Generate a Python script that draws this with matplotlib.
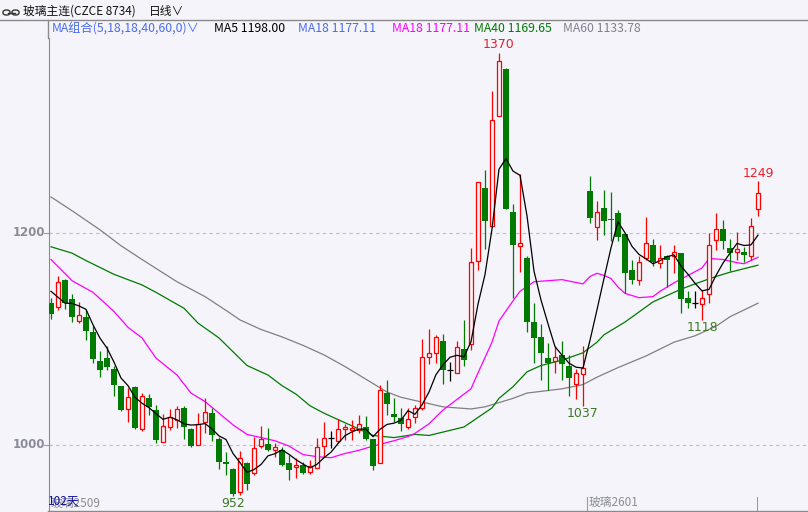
"""Glass futures daily candlestick chart with moving averages."""

import matplotlib
matplotlib.use("Agg")
import matplotlib.pyplot as plt
from matplotlib.patches import FancyBboxPatch
import numpy as np

# =============================================================================
# Data
# =============================================================================
opens = [1134, 1130, 1156, 1138, 1117, 1121, 1107, 1079, 1082, 1072,
         1056, 1034, 1055, 1015, 1044, 1033, 1003, 1017, 1024, 1035,
         1015, 1000, 1022, 1030, 1006, 984, 977, 956, 983, 974,
         999, 1001, 995, 995, 983, 979, 981, 975, 978, 999,
         1007, 1004, 1015, 1014, 1014, 1017, 1006, 983, 1049, 1029,
         1025, 1017, 1026, 1035, 1083, 1087, 1098, 1071, 1068, 1091,
         1095, 1174, 1242, 1207, 1310, 1355, 1220, 1188, 1176, 1116,
         1102, 1082, 1079, 1085, 1075, 1058, 1067, 1240, 1206, 1224,
         1213, 1219, 1199, 1165, 1156, 1176, 1189, 1172, 1178, 1178,
         1181, 1139, 1134, 1133, 1142, 1193, 1204, 1186, 1182, 1182,
         1178, 1223]
highs = [1139, 1159, 1157, 1142, 1135, 1127, 1112, 1089, 1093, 1075,
         1056, 1054, 1056, 1049, 1048, 1038, 1029, 1034, 1037, 1037,
         1016, 1030, 1044, 1035, 1008, 993, 978, 994, 984, 1008,
         1018, 1016, 1002, 998, 991, 988, 984, 986, 1007, 1022,
         1013, 1025, 1020, 1024, 1028, 1027, 1006, 1057, 1061, 1044,
         1035, 1035, 1038, 1100, 1109, 1104, 1105, 1078, 1098, 1118,
         1186, 1248, 1259, 1334, 1370, 1356, 1227, 1256, 1178, 1134,
         1114, 1096, 1093, 1098, 1085, 1072, 1093, 1254, 1230, 1241,
         1239, 1222, 1199, 1175, 1178, 1215, 1194, 1189, 1179, 1189,
         1181, 1145, 1145, 1146, 1200, 1219, 1212, 1194, 1201, 1187,
         1214, 1249]
lows = [1119, 1127, 1128, 1116, 1115, 1099, 1077, 1064, 1071, 1046,
        1032, 1022, 1015, 1013, 1028, 1002, 1003, 1014, 1016, 1006,
        998, 1000, 1011, 1004, 977, 972, 952, 953, 958, 972,
        997, 994, 989, 980, 967, 969, 973, 973, 978, 989,
        997, 1002, 1005, 1005, 1011, 1005, 976, 983, 1028, 1022,
        1013, 1015, 1021, 1033, 1076, 1077, 1058, 1060, 1068, 1075,
        1090, 1165, 1185, 1206, 1310, 1223, 1139, 1163, 1107, 1077,
        1061, 1052, 1068, 1061, 1046, 1043, 1037, 1209, 1193, 1198,
        1192, 1192, 1143, 1152, 1151, 1175, 1169, 1167, 1149, 1162,
        1125, 1129, 1129, 1118, 1134, 1184, 1185, 1164, 1175, 1173,
        1175, 1216]
closes = [1124, 1154, 1134, 1121, 1123, 1108, 1081, 1071, 1074, 1057,
          1033, 1045, 1016, 1046, 1036, 1005, 1018, 1026, 1034, 1017,
          999, 1020, 1031, 1009, 984, 982, 954, 988, 963, 997,
          1006, 995, 998, 981, 976, 981, 974, 980, 998, 1007,
          1007, 1015, 1017, 1016, 1020, 1006, 980, 1052, 1039, 1026,
          1020, 1025, 1035, 1083, 1087, 1102, 1071, 1071, 1092, 1080,
          1173, 1248, 1211, 1307, 1362, 1223, 1189, 1191, 1116, 1101,
          1087, 1077, 1083, 1076, 1063, 1068, 1073, 1214, 1220, 1211,
          1212, 1196, 1162, 1156, 1173, 1191, 1173, 1176, 1175, 1182,
          1138, 1134, 1134, 1139, 1189, 1204, 1192, 1181, 1185, 1179,
          1207, 1238]
# closes of the four sessions before the visible window (for MA5)
prev_closes = [1182, 1162, 1122, 1135]

# longer averages at candle positions
ma18_idx = [0, 3, 6, 9, 11, 13, 15, 18, 20, 22, 24, 26, 28, 30, 32, 34, 36,
            38, 40, 42, 44, 46, 49, 51, 52, 54, 56, 58, 60, 61, 63, 64, 66,
            67, 69, 73, 76, 77, 78, 79, 80, 81, 82, 84, 86, 87, 89, 91, 93,
            94, 96, 98, 99, 101]
ma18_val = [1175, 1155, 1144, 1126, 1111, 1101, 1082, 1066, 1049, 1041, 1030,
            1019, 1010, 1007, 1004, 999, 991, 989, 988, 992, 995, 999, 1004,
            1008, 1011, 1020, 1033, 1043, 1053, 1068, 1097, 1117, 1136, 1145,
            1154, 1156, 1152, 1159, 1162, 1160, 1157, 1149, 1143, 1139, 1140,
            1145, 1153, 1160, 1167, 1176, 1175, 1172, 1171, 1177.11]
ma40_idx = [0, 3, 5, 9, 13, 15, 19, 21, 24, 26, 28, 31, 33, 35, 37, 39, 41,
            43, 45, 46, 49, 52, 54, 59, 61, 63, 64, 66, 68, 70, 73, 76, 78,
            79, 82, 86, 90, 92, 95, 97, 101]
ma40_val = [1187, 1181, 1174, 1161, 1151, 1144, 1129, 1115, 1101, 1088, 1075,
            1066, 1056, 1048, 1037, 1030, 1024, 1018, 1012, 1009, 1007, 1010,
            1009, 1017, 1026, 1035, 1044, 1055, 1069, 1075, 1080, 1087, 1097,
            1104, 1116, 1135, 1147, 1152, 1159, 1163, 1169.65]
ma60_idx = [0, 3, 7, 10, 13, 18, 22, 25, 27, 30, 33, 36, 39, 42, 44, 46, 48,
            50, 52, 56, 60, 62, 66, 68, 73, 76, 78, 81, 85, 89, 92, 95, 97, 101]
ma60_val = [1234, 1221, 1203, 1188, 1175, 1154, 1140, 1127, 1118, 1109, 1102,
            1094, 1085, 1074, 1066, 1058, 1050, 1045, 1042, 1036, 1034, 1036,
            1044, 1049, 1053, 1057, 1064, 1073, 1084, 1097, 1103, 1112, 1121,
            1133.78]

y_ticks = [1000, 1200]
marks = [(64, 1370, "high"), (101, 1249, "high"), (26, 952, "low"),
         (76, 1037, "low"), (93, 1118, "low")]

# =============================================================================
# Styling
# =============================================================================
W, H = 808, 512
BG = "#F4F4FA"
UP = "#FF0000"
DOWN = "#007A00"
plt.rcParams["font.family"] = ["Noto Sans CJK SC", "DejaVu Sans"]


def px(x, y):
    """Pixel position (top-left origin) to figure fraction."""
    return x / W, 1 - y / H


fig = plt.figure(figsize=(W / 100, H / 100), dpi=100, facecolor=BG)

# plot area
left, top, right, bottom = 49, 38, 808, 510
ax = fig.add_axes([left / W, 1 - bottom / H, (right - left) / W, (bottom - top) / H])
ax.set_facecolor(BG)
step = 7.0
ax.set_xlim((left - 51) / step, (right - 51) / step)
ax.set_ylim(1200 - (bottom - 233) / 1.06, 1200 + (233 - top) / 1.06)
for s in ["top", "right", "bottom"]:
    ax.spines[s].set_visible(False)
ax.spines["left"].set_color("#8A8A8A")
ax.set_xticks([])
ax.set_yticks([])

# gridlines and y labels
for t in y_ticks:
    ax.axhline(t, color="#BDBDC4", lw=0.8, ls=(0, (3, 3)), zorder=0)
    yf = ax.transData.transform((0, t))[1] / H
    fig.text(45 / W, yf, str(t), ha="right", va="center", fontsize=8.5,
             color="#8C8C96", fontweight="bold", family="DejaVu Sans")
    fig.add_artist(plt.Line2D([44 / W, 48 / W], [yf, yf], color="#9A9AA2", lw=0.8))

# candles
x = np.arange(len(closes))
for i in x:
    o, h, l, c = opens[i], highs[i], lows[i], closes[i]
    if c > o:
        col = UP
    elif c < o:
        col = DOWN
    else:
        col = "#000000"
    ax.vlines(i, l, h, color=col, lw=0.9, zorder=2)
    if c == o:
        ax.hlines(c, i - 0.36, i + 0.36, color=col, lw=0.9, zorder=3)
    elif c > o:
        ax.bar(i, c - o, bottom=o, width=0.6, facecolor=BG, edgecolor=col,
               linewidth=0.9, zorder=3)
    else:
        ax.bar(i, o - c, bottom=c, width=0.72, facecolor=col, edgecolor=col,
               linewidth=0, zorder=3)

# moving averages
all_closes = np.array(prev_closes + closes, dtype=float)
ma5 = np.convolve(all_closes, np.ones(5) / 5, mode="valid")
ax.plot(ma60_idx, ma60_val, color="#808080", lw=0.9, zorder=1)
ax.plot(ma40_idx, ma40_val, color="#007A00", lw=0.9, zorder=1)
ax.plot(ma18_idx, ma18_val, color="#FF00FF", lw=0.9, zorder=1)
ax.plot(x, ma5, color="#000000", lw=0.9, zorder=4)

# high / low marks
for i, v, kind in marks:
    if kind == "high":
        ax.annotate(str(v), (i, v), xytext=(0, 1), textcoords="offset points",
                    ha="center", va="bottom", fontsize=9, color="#E8202A",
                    family="DejaVu Sans")
    else:
        ax.annotate(str(v), (i, v), xytext=(0, -1), textcoords="offset points",
                    ha="center", va="top", fontsize=9, color="#3C7A28",
                    family="DejaVu Sans")

# header
fig.add_artist(plt.Line2D([0, 1], [px(0, 20)[1]] * 2, color="#8A8A8A", lw=1))
fig.add_artist(plt.Line2D([px(48, 0)[0]] * 2, [px(0, 20)[1], px(0, 38)[1]],
                          color="#8A8A8A", lw=1))
for x0 in (3, 12):
    fig.add_artist(FancyBboxPatch(px(x0, 15), 7 / W, 5 / H,
                                  boxstyle="round,pad=0,rounding_size=0.004",
                                  transform=fig.transFigure, fill=False,
                                  edgecolor="#333333", lw=1))
fig.add_artist(plt.Line2D([px(8, 0)[0], px(15, 0)[0]], [px(0, 12.5)[1]] * 2,
                          color="#333333", lw=1))
fig.text(*px(23, 11), "玻璃主连(CZCE 8734)", fontsize=8.5, va="center", color="#111111")
fig.text(*px(149, 11), "日线∨", fontsize=8.5, va="center", color="#111111")

legend = [(52, "MA组合(5,18,18,40,60,0)∨", "#4A6CF0"),
          (214, "MA5 1198.00", "#000000"),
          (298, "MA18 1177.11", "#4A6CF0"),
          (392, "MA18 1177.11", "#FF00FF"),
          (474, "MA40 1169.65", "#007A00"),
          (563, "MA60 1133.78", "#808090")]
for lx, txt, col in legend:
    fig.text(*px(lx, 29), txt, fontsize=8.8, va="center", color=col)

# bottom labels
fig.text(*px(51, 503), "玻璃2509", fontsize=8.5, va="center", color="#8C8C96")
fig.text(*px(48, 501), "102天", fontsize=8.5, va="center", color="#1010A0")
fig.text(*px(589, 502), "玻璃2601", fontsize=8.5, va="center", color="#8C8C96")
for tx in (587, 757):
    fig.add_artist(plt.Line2D([px(tx, 0)[0]] * 2, [px(0, 497)[1], px(0, 510)[1]],
                              color="#9A9AA2", lw=0.8))
fig.add_artist(plt.Line2D([px(48, 0)[0], 1], [px(0, 510.5)[1]] * 2,
                          color="#8A8A8A", lw=1))

fig.savefig("out.png", dpi=100, facecolor=BG)
